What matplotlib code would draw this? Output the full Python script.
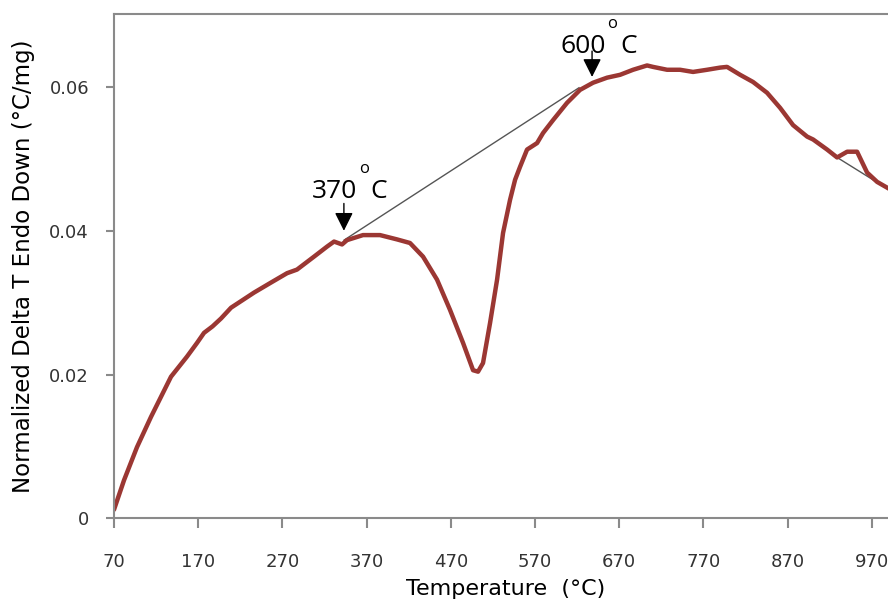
import numpy as np
import matplotlib.pyplot as plt

# DTA curve
temp = [70, 81.9, 97.3, 113.9, 137.7, 156.7, 168.6, 176.9, 187.0, 197.1, 209.0, 222.0,
        236.3, 256.5, 275.5, 287.3, 307.5, 323.0, 331.3, 340.8, 346.7, 365.7, 385.9,
        406.1, 421.5, 437.0, 453.6, 469.0, 484.5, 496.4, 502.3, 508.2, 516.6, 524.9,
        532.0, 540.3, 546.3, 552.2, 560.5, 572.4, 579.5, 591.4, 608.0, 623.4, 638.9,
        655.5, 671.0, 686.4, 703.0, 710.1, 726.8, 742.2, 757.6, 774.3, 789.7, 798.0,
        813.5, 828.9, 845.5, 861.0, 876.4, 893.1, 900.2, 916.8, 928.7, 940.6, 952.4,
        964.3, 976.2, 988.1, 1000.0]
signal = [0.0012, 0.0053, 0.0099, 0.0141, 0.0197, 0.0225, 0.0244, 0.0258, 0.0267, 0.0278,
          0.0293, 0.0303, 0.0314, 0.0328, 0.0341, 0.0346, 0.0364, 0.0378, 0.0385, 0.0381,
          0.0387, 0.0394, 0.0394, 0.0388, 0.0383, 0.0364, 0.0332, 0.0290, 0.0244, 0.0206,
          0.0204, 0.0216, 0.0272, 0.0332, 0.0397, 0.0443, 0.0471, 0.0489, 0.0513, 0.0522,
          0.0536, 0.0554, 0.0578, 0.0596, 0.0606, 0.0613, 0.0617, 0.0624, 0.0630, 0.0628,
          0.0624, 0.0624, 0.0621, 0.0624, 0.0627, 0.0628, 0.0617, 0.0607, 0.0592, 0.0571,
          0.0547, 0.0531, 0.0527, 0.0513, 0.0502, 0.0510, 0.0510, 0.0481, 0.0468, 0.0460,
          0.0452]

# baselines drawn between the tangent points
base1_t = [343.2, 622.2]
base1_y = [0.0387, 0.0599]
base2_t = [928.7, 1000.0]
base2_y = [0.0502, 0.0450]

xticks = [70, 170, 270, 370, 470, 570, 670, 770, 870, 970]
yticks = [0, 0.02, 0.04, 0.06]
ytick_labels = ['0', '0.02', '0.04', '0.06']

fig = plt.figure(figsize=(8.88, 6.02), dpi=100)
ax = fig.add_axes([114/888, 1 - 518.3/602, 784/888, (518.3 - 13.7)/602])

ax.plot(base1_t, base1_y, color='#555555', lw=1)
ax.plot(base2_t, base2_y, color='#555555', lw=1)
ax.plot(temp, signal, color='#9b3733', lw=3.2, solid_capstyle='round',
        solid_joinstyle='round')

ax.set_xlim(70, 1001)
ax.set_ylim(0, 0.0702)
ax.set_xticks(xticks)
ax.set_xticklabels([str(t) for t in xticks])
ax.set_yticks(yticks)
ax.set_yticklabels(ytick_labels)

for s in ['left', 'bottom', 'top']:
    ax.spines[s].set_color('#8a8a8a')
    ax.spines[s].set_linewidth(1.5)
ax.spines['right'].set_visible(False)
ax.tick_params(axis='x', direction='out', length=7, width=1.5, color='#8a8a8a',
               labelsize=13, labelcolor='#333333', pad=18)
ax.tick_params(axis='y', direction='out', length=6, width=1.5, color='#8a8a8a',
               labelsize=13, labelcolor='#333333', pad=12)

ax.set_xlabel('Temperature  (°C)', fontsize=16, labelpad=6)
ax.set_ylabel('Normalized Delta T Endo Down (°C/mg)', fontsize=16.5, labelpad=10)

# annotations
af = 'Open Sans'
ax.text(305, 0.0446, '370', fontsize=19, family=af, ha='left', va='baseline')
ax.text(361, 0.0480, 'o', fontsize=12, family=af, ha='left', va='baseline')
ax.text(374, 0.0446, 'C', fontsize=19, family=af, ha='left', va='baseline')
ax.annotate('', xy=(343, 0.0400), xytext=(343, 0.0438),
            arrowprops=dict(arrowstyle='-|>,head_length=0.4,head_width=0.2',
                            color='black', lw=1, mutation_scale=28,
                            shrinkA=0, shrinkB=0))

ax.text(600, 0.0648, '600', fontsize=19, family=af, ha='left', va='baseline')
ax.text(656, 0.0682, 'o', fontsize=12, family=af, ha='left', va='baseline')
ax.text(671, 0.0648, 'C', fontsize=19, family=af, ha='left', va='baseline')
ax.annotate('', xy=(637.7, 0.0614), xytext=(637.7, 0.0650),
            arrowprops=dict(arrowstyle='-|>,head_length=0.4,head_width=0.2',
                            color='black', lw=1, mutation_scale=28,
                            shrinkA=0, shrinkB=0))

fig.savefig('out.png', dpi=100)
